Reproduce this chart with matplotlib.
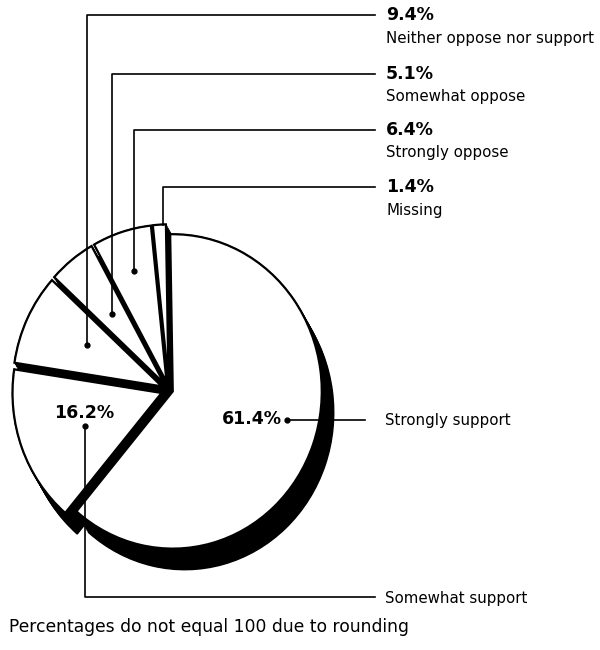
import numpy as np
import matplotlib.pyplot as plt
import matplotlib.transforms as mtransforms

plt.rcParams['font.family'] = ['DejaVu Sans']

# data, clockwise from the top
labels = ['Strongly support', 'Somewhat support', 'Neither oppose nor support',
          'Somewhat oppose', 'Strongly oppose', 'Missing']
values = [61.4, 16.2, 9.4, 5.1, 6.4, 1.4]
pct_text = ['61.4%', '16.2%', '9.4%', '5.1%', '6.4%', '1.4%']
note = 'Percentages do not equal 100 due to rounding'

H = 650
def Y(py):
    return H - py

fig = plt.figure(figsize=(6, 6.5), dpi=100)
ax = fig.add_axes([0, 0, 1, 1])

cx, cy = 169, Y(390)
r = 149
squash = 1.055   # pie is drawn a little taller than wide
explode = [4, 8, 8, 8, 8, 8]   # data units

# stretch the pie vertically about its centre
stretch = (mtransforms.Affine2D().translate(-cx, -cy).scale(1, squash)
           .translate(cx, cy) + ax.transData)

black = dict(facecolor='black', edgecolor='black', linewidth=1)

# black fill behind the gaps
wedges, _ = ax.pie(values, center=(cx, cy), radius=r * 0.97, startangle=91,
                   counterclock=False, frame=True, wedgeprops=black)
for w in wedges:
    w.set_transform(stretch)

# extruded black side (shadow)
for t in np.linspace(0, 1, 12):
    wedges, _ = ax.pie(values, center=(cx + 12 * t, cy - 20 * t), radius=r,
                       startangle=91, counterclock=False, explode=explode,
                       frame=True, wedgeprops=black)
    for w in wedges:
        w.set_transform(stretch)

# top faces
wedges, _ = ax.pie(values, center=(cx, cy), radius=r, startangle=91,
                   counterclock=False, explode=explode, frame=True,
                   wedgeprops=dict(facecolor='white', edgecolor='black',
                                   linewidth=1.6))
for w in wedges:
    w.set_transform(stretch)

lw = 1.2
pct_fs = 12.5
lab_fs = 10.8
# leaders for the top labels
tops = [(87, 345, 15), (112, 314, 74), (134, 271, 130), (163, 225, 187)]
for (x, yd, yl), i in zip(tops, [2, 3, 4, 5]):
    ax.plot([x, x, 375], [Y(yd), Y(yl), Y(yl)], color='black', lw=lw)
    if i != 5:
        ax.plot(x, Y(yd), 'o', color='black', ms=3.5)
    ax.text(386, Y(yl), pct_text[i], fontsize=pct_fs, fontweight='bold',
            va='center', ha='left')
    ax.text(386, Y(yl + 23), labels[i], fontsize=lab_fs, va='center', ha='left')

# strongly support
ax.text(282, Y(419), pct_text[0], fontsize=pct_fs, fontweight='bold',
        va='center', ha='right')
ax.plot([287, 365], [Y(420), Y(420)], color='black', lw=lw)
ax.plot(287, Y(420), 'o', color='black', ms=3.5)
ax.text(385, Y(420), labels[0], fontsize=lab_fs, va='center', ha='left')

# somewhat support
ax.text(84, Y(413), pct_text[1], fontsize=pct_fs, fontweight='bold',
        va='center', ha='center')
ax.plot([85, 85, 375], [Y(426), Y(597), Y(597)], color='black', lw=lw)
ax.plot(85, Y(426), 'o', color='black', ms=3.5)
ax.text(385, Y(598), labels[1], fontsize=lab_fs, va='center', ha='left')

ax.text(9, Y(627), note, fontsize=12.3, va='center', ha='left')

ax.set_xlim(0, 600)
ax.set_ylim(0, 650)
ax.set_aspect('equal')
ax.axis('off')
fig.savefig('out.png', dpi=100, facecolor='white')
